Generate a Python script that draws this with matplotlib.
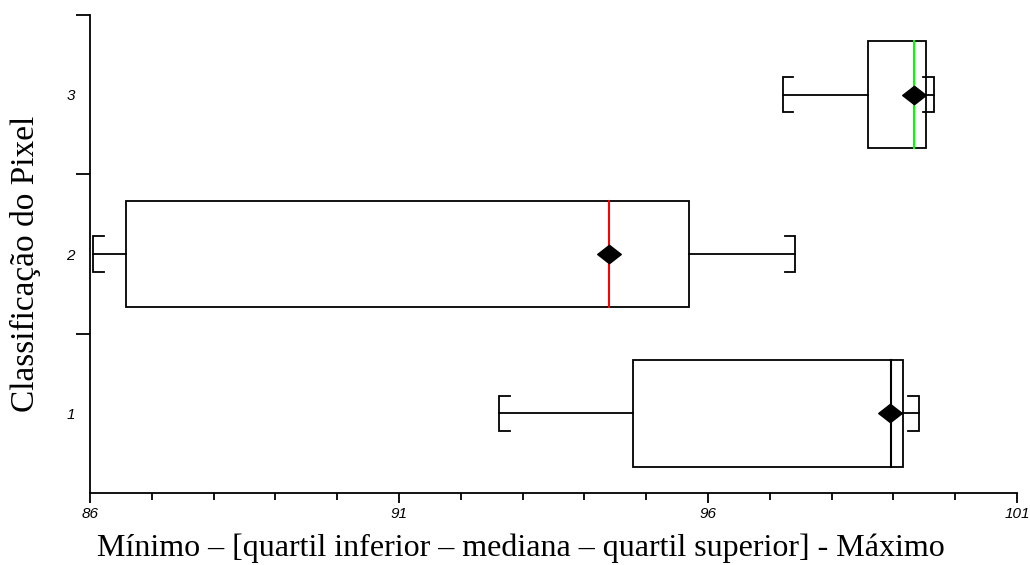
import matplotlib
matplotlib.use("Agg")
import matplotlib.pyplot as plt
from matplotlib.patches import Rectangle
from matplotlib.path import Path

categories = [1, 2, 3]
minimum = [92.62, 86.05, 97.21]
q1 = [94.79, 86.59, 98.59]
median = [98.96, 94.40, 99.34]
q3 = [99.16, 95.69, 99.53]
maximum = [99.41, 97.41, 99.65]
mean = [98.95, 94.40, 99.33]
median_colors = ["black", "#ff0000", "#00ff00"]
xtick_labels = ["86", "91", "96", "101"]

W, H = 1030, 565
fig = plt.figure(figsize=(W/100, H/100), dpi=100)
ax = fig.add_axes([90/W, 1-493/H, 927/W, 478/H])

box_h = 0.67
cap_h = 0.22
stub = 0.17
lw = 1.3
diamond = Path([(-1, 0), (0, 0.78), (1, 0), (0, -0.78), (-1, 0)],
               [Path.MOVETO, Path.LINETO, Path.LINETO, Path.LINETO, Path.CLOSEPOLY])

for y, mn, a, md, b, mx, mu, mc in zip(categories, minimum, q1, median, q3, maximum, mean, median_colors):
    ax.add_patch(Rectangle((a, y - box_h/2), b - a, box_h, fill=False, ec="black", lw=lw, zorder=2))
    ax.plot([mn, a], [y, y], color="black", lw=lw, zorder=2)
    ax.plot([b, mx], [y, y], color="black", lw=lw, zorder=2)
    ax.plot([mn + stub, mn, mn, mn + stub], [y - cap_h/2, y - cap_h/2, y + cap_h/2, y + cap_h/2],
            color="black", lw=lw, zorder=2, solid_joinstyle="miter")
    ax.plot([mx - stub, mx, mx, mx - stub], [y - cap_h/2, y - cap_h/2, y + cap_h/2, y + cap_h/2],
            color="black", lw=lw, zorder=2, solid_joinstyle="miter")
    ax.plot([md, md], [y - box_h/2, y + box_h/2], color=mc, lw=1.5, zorder=3)
    ax.plot([mu], [y], marker=diamond, markersize=17, color="black", zorder=4, linestyle="none")

ax.set_xlim(86, 101)
ax.set_ylim(0.5, 3.5)

for s in ["top", "right"]:
    ax.spines[s].set_visible(False)
for s in ["left", "bottom"]:
    ax.spines[s].set_linewidth(1.3)

ax.set_xticks([86, 91, 96, 101])
ax.set_xticklabels(xtick_labels, fontfamily="Liberation Sans", fontstyle="italic", fontsize=11)
ax.set_xticks([x for x in range(86, 102) if (x - 86) % 5 != 0], minor=True)
ax.tick_params(axis="x", which="major", length=7, width=1.3, direction="out", pad=3)
ax.tick_params(axis="x", which="minor", length=5, width=1.3, direction="out")

ax.set_yticks([1.5, 2.5, 3.5])
ax.set_yticklabels([])
ax.set_yticks(categories, minor=True)
ax.set_yticklabels([str(c) for c in categories], minor=True,
                   fontfamily="Liberation Sans", fontstyle="italic", fontsize=11)
ax.tick_params(axis="y", which="major", length=10, width=1.3, direction="out")
ax.tick_params(axis="y", which="minor", length=0, pad=11)

fig.text(521/W, 1-556/H, "Mínimo – [quartil inferior – mediana – quartil superior] - Máximo",
         fontfamily="Liberation Serif", fontsize=23, ha="center", va="baseline")
fig.text(25/W, 1-264/H, "Classificação do Pixel", fontfamily="Liberation Serif", fontsize=24,
         rotation=90, ha="center", va="center")

fig.savefig("out.png", dpi=100)
